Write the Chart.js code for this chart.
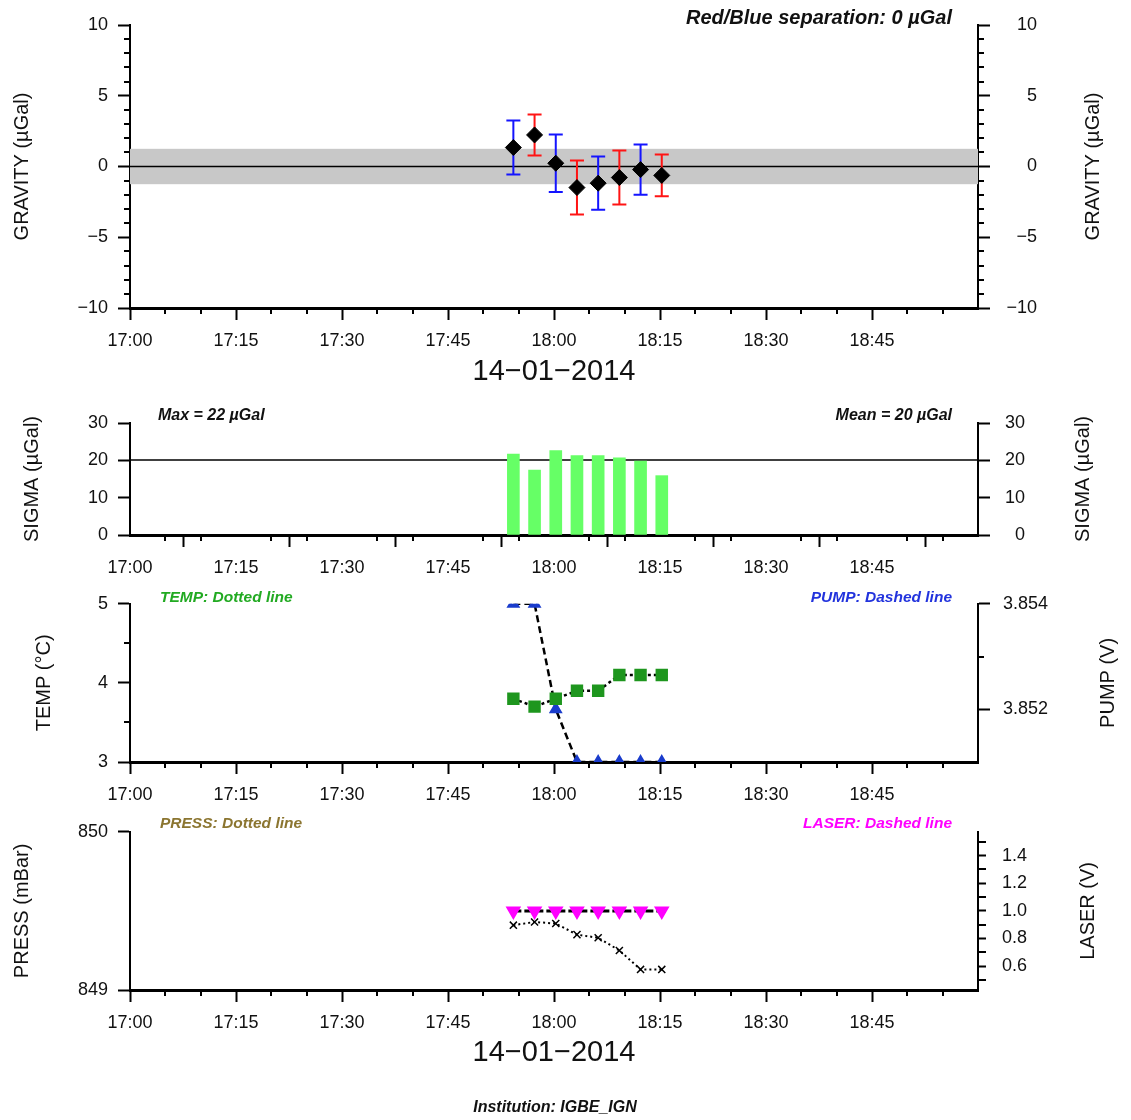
<!DOCTYPE html>
<html>
<head>
<meta charset="utf-8">
<script src="https://cdn.jsdelivr.net/npm/chart.js@4.4.1/dist/chart.umd.min.js"></script>
<style>
  body { margin: 0; background: #fff; }
  canvas { position: absolute; left: 0; }
</style>
</head>
<body>
<canvas id="gravChart" width="1131" height="395" style="top:0px"></canvas>
<canvas id="sigmaChart" width="1131" height="185" style="top:395px"></canvas>
<canvas id="tempChart" width="1131" height="225" style="top:580px"></canvas>
<canvas id="pressChart" width="1131" height="315" style="top:805px"></canvas>
<script>
// drop times and values
var dropTimes = ['17:54:15', '17:57:15', '18:00:15', '18:03:15', '18:06:15', '18:09:15', '18:12:15', '18:15:15'];
var gravity = [1.34, 2.23, 0.23, -1.49, -1.18, -0.78, -0.22, -0.63];
var gravityErr = [1.91, 1.45, 2.03, 1.91, 1.88, 1.91, 1.77, 1.48];
var gravityBand = 1.25;
var sigma = [21.7, 17.4, 22.6, 21.3, 21.3, 20.7, 19.8, 15.9];
var temp = [3.8, 3.7, 3.8, 3.9, 3.9, 4.1, 4.1, 4.1];
var pump = [3.854, 3.854, 3.852, 3.851, 3.851, 3.851, 3.851, 3.851];
var press = [849.41, 849.43, 849.42, 849.35, 849.33, 849.25, 849.13, 849.13];
var laser = [1.0, 1.0, 1.0, 1.0, 1.0, 1.0, 1.0, 1.0];

// axes
var timeTicks = ['17:00', '17:15', '17:30', '17:45', '18:00', '18:15', '18:30', '18:45'];
var timeMinor = ['17:05', '17:10', '17:20', '17:25', '17:35', '17:40', '17:50', '17:55', '18:05', '18:10',
                 '18:20', '18:25', '18:35', '18:40', '18:50', '18:55'];
var gravityTicks = [-10, -5, 0, 5, 10];
var gravityMinor = [-9, -8, -7, -6, -4, -3, -2, -1, 1, 2, 3, 4, 6, 7, 8, 9];
var sigmaTicks = [0, 10, 20, 30];
var tempTicks = [3, 4, 5];
var tempMinor = [3.5, 4.5];
var pumpTicks = [3.852, 3.854];
var pumpMinor = [3.853];
var pressTicks = [849, 850];
var laserTicks = [0.6, 0.8, 1.0, 1.2, 1.4];
var laserMinor = [0.5, 0.7, 0.9, 1.1, 1.3, 1.5];
var dateLabel = '14\u221201\u22122014';
var institution = 'Institution: IGBE_IGN';

var FONT = '"Liberation Sans", Arial, sans-serif';
var INK = '#111';

function toMin(t) {
    var p = t.split(':');
    return (+p[0] - 17) * 60 + (+p[1]) + (p[2] ? +p[2] / 60 : 0);
}
function fmtTime(m) {
    var h = 17 + Math.floor(m / 60), mm = Math.round(m % 60);
    return h + ':' + (mm < 10 ? '0' : '') + mm;
}
var xs = dropTimes.map(toMin);
function pts(arr) {
    return arr.map(function (v, i) { return { x: xs[i], y: v }; });
}
function minus(v) { return v < 0 ? '\u2212' + Math.abs(v) : String(v); }

function xScale(h, title) {
    return {
        type: 'linear', min: 0, max: 120, offset: false,
        afterBuildTicks: function (s) { s.ticks = timeTicks.map(function (t) { return { value: toMin(t) }; }); },
        afterFit: function (s) { s.height = h; },
        ticks: {
            callback: function (v) { return fmtTime(v); },
            font: { family: FONT, size: 18 }, color: INK, padding: 10, maxRotation: 0, autoSkip: false
        },
        grid: { drawOnChartArea: false, tickLength: 12, tickWidth: 2, tickColor: '#000' },
        border: { color: '#000', width: 3 },
        title: title ? { display: true, text: title, font: { family: FONT, size: 29 }, color: INK, padding: { top: 0, bottom: 6 } }
                     : { display: false }
    };
}

function yScale(o) {
    return {
        type: 'linear', position: o.pos, min: o.min, max: o.max,
        afterBuildTicks: function (s) { s.ticks = o.ticks.map(function (v) { return { value: v }; }); },
        afterFit: function (s) { s.width = o.width; },
        ticks: {
            callback: o.fmt || minus,
            font: { family: FONT, size: 18 }, color: INK,
            padding: o.pad || 10, crossAlign: o.cross || 'near'
        },
        grid: { drawOnChartArea: false, tickLength: o.tick || 12, tickWidth: 2, tickColor: '#000' },
        border: { color: '#000', width: 2 },
        title: o.title ? { display: true, text: o.title, font: { family: FONT, size: 20 }, color: INK, padding: { top: o.titlePad, bottom: 0 } }
                       : { display: false }
    };
}

function drawMinor(chart, id, values, len) {
    var s = chart.scales[id], ctx = chart.ctx;
    ctx.save();
    ctx.strokeStyle = '#000';
    ctx.lineWidth = 2;
    ctx.beginPath();
    values.forEach(function (v) {
        var p = Math.round(s.getPixelForValue(v));
        if (s.isHorizontal()) { ctx.moveTo(p, s.top); ctx.lineTo(p, s.top + len); }
        else if (s.position === 'left') { ctx.moveTo(s.right, p); ctx.lineTo(s.right - len, p); }
        else { ctx.moveTo(s.left, p); ctx.lineTo(s.left + len, p); }
    });
    ctx.stroke();
    ctx.restore();
}

function rightTitle(chart, text, x) {
    var a = chart.chartArea, ctx = chart.ctx;
    ctx.save();
    ctx.translate(x, (a.top + a.bottom) / 2);
    ctx.rotate(-Math.PI / 2);
    ctx.font = '20px ' + FONT;
    ctx.fillStyle = INK;
    ctx.textAlign = 'center';
    ctx.textBaseline = 'middle';
    ctx.fillText(text, 0, 0);
    ctx.restore();
}

function note(chart, text, x, y, align, color, size) {
    var ctx = chart.ctx;
    ctx.save();
    ctx.font = 'italic bold ' + size + 'px ' + FONT;
    ctx.fillStyle = color;
    ctx.textAlign = align;
    ctx.textBaseline = 'middle';
    ctx.fillText(text, x, y);
    ctx.restore();
}

function hLine(chart, yId, v, width) {
    var a = chart.chartArea, ctx = chart.ctx, y = chart.scales[yId].getPixelForValue(v);
    ctx.save();
    ctx.strokeStyle = '#000';
    ctx.lineWidth = width;
    ctx.beginPath();
    ctx.moveTo(a.left, y);
    ctx.lineTo(a.right, y);
    ctx.stroke();
    ctx.restore();
}

var common = {
    responsive: false,
    animation: false,
    plugins: { legend: { display: false }, tooltip: { enabled: false } }
};
function opts(extra) { return Object.assign({}, common, extra); }

// ---------- panel 1: gravity ----------
new Chart(document.getElementById('gravChart'), {
    type: 'line',
    data: {
        datasets: [{
            data: pts(gravity), showLine: false,
            pointStyle: 'rectRot', pointRadius: 8,
            pointBackgroundColor: '#000', pointBorderColor: '#000'
        }]
    },
    options: opts({
        layout: { padding: { top: 25, right: 94, bottom: 0, left: 0 } },
        scales: {
            x: xScale(87, dateLabel),
            y: yScale({ pos: 'left', min: -10, max: 10, ticks: gravityTicks, width: 130, title: 'GRAVITY (\u00b5Gal)', titlePad: 10 }),
            y2: yScale({ pos: 'right', min: -10, max: 10, ticks: gravityTicks, width: 59, cross: 'far' })
        }
    }),
    plugins: [{
        id: 'gravExtras',
        beforeDatasetsDraw: function (chart) {
            var a = chart.chartArea, ctx = chart.ctx, ys = chart.scales.y, xsS = chart.scales.x;
            var t = ys.getPixelForValue(gravityBand), b = ys.getPixelForValue(-gravityBand);
            ctx.save();
            ctx.fillStyle = '#c8c8c8';
            ctx.fillRect(a.left, t, a.right - a.left, b - t);
            ctx.restore();
            hLine(chart, 'y', 0, 1.5);
            ctx.save();
            ctx.lineWidth = 2;
            gravity.forEach(function (g, i) {
                var x = xsS.getPixelForValue(xs[i]);
                var y1 = ys.getPixelForValue(g + gravityErr[i]), y2 = ys.getPixelForValue(g - gravityErr[i]);
                ctx.strokeStyle = i % 2 === 0 ? '#1414ff' : '#ff1414';
                ctx.beginPath();
                ctx.moveTo(x, y1); ctx.lineTo(x, y2);
                ctx.moveTo(x - 7, y1); ctx.lineTo(x + 7, y1);
                ctx.moveTo(x - 7, y2); ctx.lineTo(x + 7, y2);
                ctx.stroke();
            });
            ctx.restore();
        },
        afterDraw: function (chart) {
            drawMinor(chart, 'x', timeMinor.map(toMin), 6);
            drawMinor(chart, 'y', gravityMinor, 6);
            drawMinor(chart, 'y2', gravityMinor, 6);
            rightTitle(chart, 'GRAVITY (\u00b5Gal)', 1093);
            note(chart, 'Red/Blue separation: 0 \u00b5Gal', 952, 18, 'right', INK, 20);
        }
    }]
});

// ---------- panel 2: sigma ----------
var sigmaMax = Math.max.apply(null, sigma);
var sigmaMean = sigma.reduce(function (s, v) { return s + v; }, 0) / sigma.length;

new Chart(document.getElementById('sigmaChart'), {
    type: 'bar',
    data: {
        datasets: [{
            data: pts(sigma), barThickness: 12,
            backgroundColor: '#66ff66', borderWidth: 0
        }]
    },
    options: opts({
        layout: { padding: { top: 28, right: 106, bottom: 0, left: 0 } },
        scales: {
            x: xScale(45, null),
            y: yScale({ pos: 'left', min: 0, max: 30, ticks: sigmaTicks, width: 130, title: 'SIGMA (\u00b5Gal)', titlePad: 20 }),
            y2: yScale({ pos: 'right', min: 0, max: 30, ticks: sigmaTicks, width: 47, cross: 'far' })
        }
    }),
    plugins: [{
        id: 'sigmaExtras',
        beforeDatasetsDraw: function (chart) {
            hLine(chart, 'y', sigmaMean, 1.5);
        },
        afterDraw: function (chart) {
            drawMinor(chart, 'x', timeMinor.map(toMin), 6);
            rightTitle(chart, 'SIGMA (\u00b5Gal)', 1083);
            note(chart, 'Max = ' + Math.floor(sigmaMax) + ' \u00b5Gal', 158, 21, 'left', INK, 16);
            note(chart, 'Mean = ' + Math.round(sigmaMean) + ' \u00b5Gal', 952, 21, 'right', INK, 16);
        }
    }]
});

// ---------- panel 3: temp / pump ----------
new Chart(document.getElementById('tempChart'), {
    type: 'line',
    data: {
        datasets: [{
            data: pts(temp), yAxisID: 'y',
            borderColor: '#000', borderWidth: 2.5, borderDash: [3, 3],
            pointStyle: 'rect', pointRadius: 7,
            pointBackgroundColor: '#1e961e', pointBorderColor: '#1e961e'
        }, {
            data: pts(pump), yAxisID: 'y2', clip: 0,
            borderColor: '#000', borderWidth: 2.5, borderDash: [7, 4],
            pointStyle: 'triangle', pointRadius: 5.5,
            pointBackgroundColor: '#1a3ccc', pointBorderColor: '#1a3ccc'
        }]
    },
    options: opts({
        layout: { padding: { top: 23, right: 0, bottom: 0, left: 0 } },
        scales: {
            x: xScale(43, null),
            y: yScale({ pos: 'left', min: 3, max: 5, ticks: tempTicks, width: 130, title: 'TEMP (\u00b0C)', titlePad: 32 }),
            y2: yScale({ pos: 'right', min: 3.851, max: 3.854, ticks: pumpTicks, width: 153, pad: 13,
                         fmt: function (v) { return v.toFixed(3); } })
        }
    }),
    plugins: [{
        id: 'tempExtras',
        afterDraw: function (chart) {
            drawMinor(chart, 'x', timeMinor.map(toMin), 6);
            drawMinor(chart, 'y', tempMinor, 6);
            drawMinor(chart, 'y2', pumpMinor, 6);
            rightTitle(chart, 'PUMP (V)', 1108);
            note(chart, 'TEMP: Dotted line', 160, 18, 'left', '#22aa22', 15.5);
            note(chart, 'PUMP: Dashed line', 952, 18, 'right', '#2233dd', 15.5);
        }
    }]
});

// ---------- panel 4: press / laser ----------
new Chart(document.getElementById('pressChart'), {
    type: 'line',
    data: {
        datasets: [{
            data: pts(press), yAxisID: 'y',
            borderColor: '#000', borderWidth: 2, borderDash: [2, 3],
            pointStyle: 'crossRot', pointRadius: 5, pointBorderWidth: 1.5,
            pointBorderColor: '#000'
        }, {
            data: pts(laser), yAxisID: 'y2',
            borderColor: '#000', borderWidth: 3, borderDash: [8, 3],
            pointStyle: 'triangle', pointRotation: 180, pointRadius: 6,
            pointBackgroundColor: '#ff00ff', pointBorderColor: '#ff00ff'
        }]
    },
    options: opts({
        layout: { padding: { top: 26, right: 0, bottom: 44, left: 0 } },
        scales: {
            x: xScale(86, dateLabel),
            y: yScale({ pos: 'left', min: 849, max: 850, ticks: pressTicks, width: 130, title: 'PRESS (mBar)', titlePad: 10 }),
            y2: yScale({ pos: 'right', min: 0.427, max: 1.573, ticks: laserTicks, width: 153, tick: 8, pad: 16,
                         fmt: function (v) { return v.toFixed(1); } })
        }
    }),
    plugins: [{
        id: 'pressExtras',
        afterDraw: function (chart) {
            drawMinor(chart, 'x', timeMinor.map(toMin), 6);
            drawMinor(chart, 'y2', laserMinor, 8);
            rightTitle(chart, 'LASER (V)', 1088);
            note(chart, 'PRESS: Dotted line', 160, 19, 'left', '#8b7530', 15.5);
            note(chart, 'LASER: Dashed line', 952, 19, 'right', '#ff00ff', 15.5);
            note(chart, institution, 555, 303, 'center', INK, 16);
        }
    }]
});
</script>
</body>
</html>
